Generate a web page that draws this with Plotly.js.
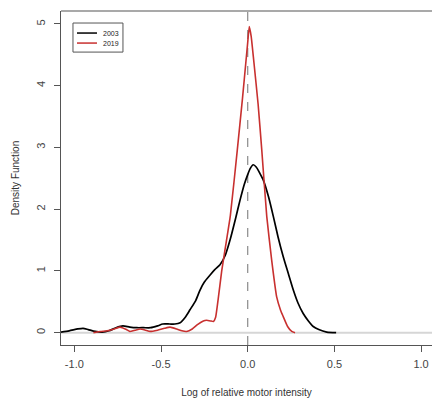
<!DOCTYPE html>
<html>
<head>
<meta charset="utf-8">
<script src="https://cdn.plot.ly/plotly-3.0.1.min.js"></script>
<style>html,body{margin:0;padding:0;background:#fff;overflow:hidden;}#chart{width:432px;height:400px;}</style>
</head>
<body>
<div id="chart"></div>
<script>
// 2003 density estimate
const x2003 = [-1.077, -1.03, -0.98, -0.95, -0.92, -0.88, -0.84, -0.80, -0.76, -0.72, -0.68, -0.64, -0.60, -0.56, -0.52, -0.49, -0.45, -0.42, -0.39, -0.36, -0.333, -0.30, -0.275, -0.25, -0.218, -0.19, -0.16, -0.13, -0.102, -0.07, -0.044, -0.02, 0.0, 0.015, 0.032, 0.05, 0.07, 0.09, 0.12, 0.148, 0.175, 0.205, 0.235, 0.263, 0.29, 0.32, 0.35, 0.378, 0.41, 0.456, 0.51];
const y2003 = [0.01, 0.03, 0.06, 0.07, 0.05, 0.02, 0.01, 0.03, 0.08, 0.11, 0.09, 0.08, 0.08, 0.08, 0.11, 0.14, 0.14, 0.14, 0.16, 0.25, 0.37, 0.52, 0.69, 0.82, 0.93, 1.02, 1.1, 1.25, 1.5, 1.85, 2.15, 2.4, 2.56, 2.66, 2.72, 2.68, 2.58, 2.47, 2.2, 1.88, 1.55, 1.23, 0.95, 0.69, 0.48, 0.31, 0.19, 0.1, 0.05, 0.01, 0.0];
// 2019 density estimate
const x2019 = [-0.89, -0.85, -0.81, -0.77, -0.736, -0.70, -0.68, -0.65, -0.62, -0.59, -0.563, -0.52, -0.48, -0.448, -0.41, -0.38, -0.352, -0.32, -0.29, -0.256, -0.237, -0.215, -0.198, -0.185, -0.17, -0.15, -0.13, -0.10, -0.06, -0.03, -0.01, 0.0, 0.009, 0.02, 0.035, 0.06, 0.081, 0.11, 0.138, 0.167, 0.19, 0.205, 0.23, 0.254, 0.273];
const y2019 = [0.0, 0.02, 0.03, 0.06, 0.09, 0.05, 0.02, 0.04, 0.06, 0.04, 0.02, 0.04, 0.07, 0.09, 0.06, 0.03, 0.02, 0.06, 0.13, 0.19, 0.2, 0.19, 0.18, 0.25, 0.55, 1.0, 1.36, 1.9, 2.96, 3.8, 4.4, 4.7, 4.96, 4.8, 4.4, 3.7, 2.96, 1.88, 1.18, 0.58, 0.36, 0.26, 0.1, 0.02, 0.0];

const seriesNames = ["2003", "2019"];
const seriesColors = ["#000000", "#c8302f"];
const xTickVals = [-1.0, -0.5, 0.0, 0.5, 1.0];
const xTickText = ["-1.0", "-0.5", "0.0", "0.5", "1.0"];
const yTickVals = [0, 1, 2, 3, 4, 5];
const yTickText = ["0", "1", "2", "3", "4", "5"];

const font = "Liberation Sans, Arial, sans-serif";

const traces = [
  {x: x2003, y: y2003, name: seriesNames[0], type: "scatter", mode: "lines",
   line: {color: seriesColors[0], width: 1.7, shape: "spline", smoothing: 0.6}},
  {x: x2019, y: y2019, name: seriesNames[1], type: "scatter", mode: "lines",
   line: {color: seriesColors[1], width: 1.6, shape: "spline", smoothing: 0.4}}
];

// manual legend (box, key lines, labels) in paper coordinates
const legX0 = 0.0323, legX1 = 0.167, legY0 = 0.877, legY1 = 0.964;
const keyX0 = 0.0431, keyX1 = 0.097, keyTextX = 0.108;
const keyY = [0.934, 0.904];

const shapes = [
  {type: "line", xref: "paper", yref: "y", x0: 0, x1: 1, y0: 0, y1: 0,
   line: {color: "#d6d6d6", width: 2}, layer: "below"},
  {type: "line", xref: "x", yref: "paper", x0: 0, x1: 0, y0: 0, y1: 1,
   line: {color: "#8a8a8a", width: 1.2, dash: "dash"}, layer: "below"},
  {type: "line", xref: "paper", yref: "paper", x0: 0, x1: 1, y0: 1, y1: 1,
   line: {color: "#555555", width: 1.2}},
  {type: "rect", xref: "paper", yref: "paper", x0: legX0, x1: legX1, y0: legY0, y1: legY1,
   line: {color: "#555555", width: 1}, fillcolor: "rgba(0,0,0,0)"}
];
const annotations = [];
seriesNames.forEach((n, i) => {
  shapes.push({type: "line", xref: "paper", yref: "paper", x0: keyX0, x1: keyX1, y0: keyY[i], y1: keyY[i],
               line: {color: seriesColors[i], width: 1.5}});
  annotations.push({xref: "paper", yref: "paper", x: keyTextX, y: keyY[i], xanchor: "left", yanchor: "middle",
                    text: n, showarrow: false, font: {size: 7, color: "#222222", family: font}});
});

const layout = {
  width: 432, height: 400,
  margin: {l: 61, r: 0, t: 11, b: 55, pad: 0},
  paper_bgcolor: "#ffffff", plot_bgcolor: "#ffffff",
  font: {family: font, color: "#444444", size: 11},
  showlegend: false,
  xaxis: {range: [-1.077, 1.063], tickvals: xTickVals, ticktext: xTickText,
          showgrid: false, zeroline: false, showline: true, mirror: false,
          linecolor: "#555555", linewidth: 1.2, ticks: "outside", ticklen: 6,
          tickcolor: "#555555", tickfont: {size: 11, color: "#444444"},
          ticklabelstandoff: 3,
          title: {text: "Log of relative motor intensity", font: {size: 10, color: "#333333"}, standoff: 19}},
  yaxis: {range: [-0.2, 5.21], tickvals: yTickVals, ticktext: yTickText,
          showgrid: false, zeroline: false, showline: true, mirror: false, side: "left",
          linecolor: "#555555", linewidth: 1.2, ticks: "outside", ticklen: 6,
          tickcolor: "#555555", tickangle: -90, tickfont: {size: 11, color: "#444444"},
          ticklabelstandoff: 4,
          title: {text: "Density Function", font: {size: 10, color: "#333333"}, standoff: 14}},
  shapes: shapes,
  annotations: annotations
};

Plotly.newPlot("chart", traces, layout, {displayModeBar: false, staticPlot: true});
</script>
</body>
</html>
